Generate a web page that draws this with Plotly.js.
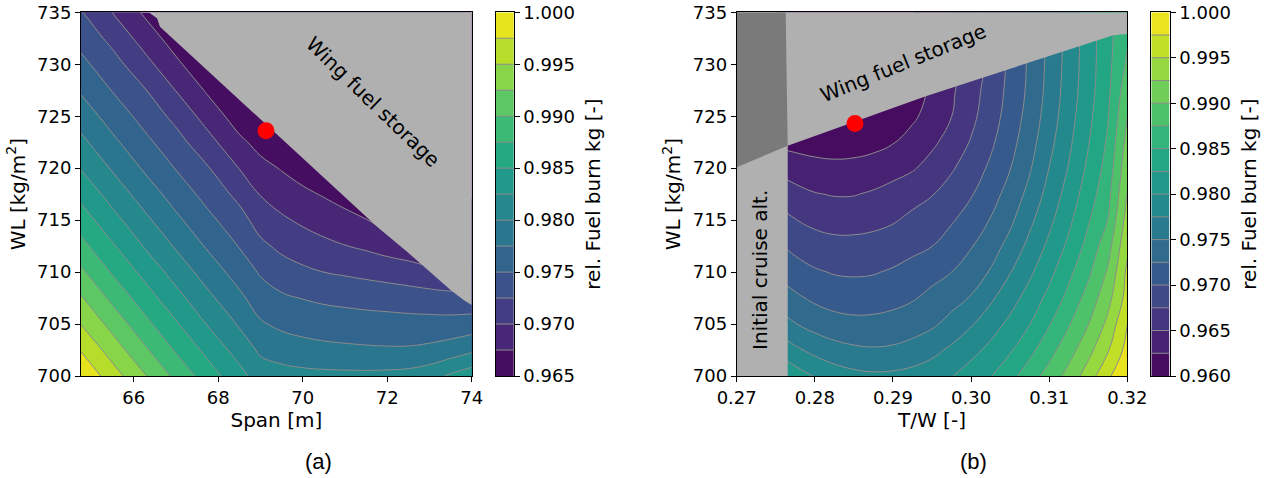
<!DOCTYPE html>
<html><head><meta charset="utf-8">
<script src="https://cdn.plot.ly/plotly-3.0.1.min.js"></script>
<style>html,body{margin:0;padding:0;background:#fff}#chart{width:1272px;height:478px}</style>
</head><body><div id="chart"></div>
<script>
// ---------------- Panel (a): Span vs WL ----------------
const spanX = [64.75, 65.5, 66.25, 67, 67.75, 68.5, 69, 69.5, 70, 70.5, 71, 71.5, 72, 72.5, 73, 73.5, 74];
const wlA = [700, 702.5, 705, 707.5, 710, 712.5, 715, 717.5, 720, 722.5, 725, 727.5, 730, 732.5, 735];
const fuelA = [
  [0.99975, 0.99613, 0.99275, 0.98935, 0.98625, 0.98333, 0.98135, 0.98095, 0.98073, 0.98063, 0.98060, 0.98060, 0.98068, 0.98088, 0.98150, 0.98288, 0.98400],
  [0.99733, 0.99383, 0.99048, 0.98723, 0.98430, 0.98148, 0.97958, 0.97890, 0.97845, 0.97815, 0.97798, 0.97785, 0.97778, 0.97780, 0.97808, 0.97863, 0.97953],
  [0.99493, 0.99163, 0.98828, 0.98528, 0.98235, 0.97973, 0.97778, 0.97698, 0.97655, 0.97630, 0.97615, 0.97603, 0.97595, 0.97588, 0.97588, 0.97595, 0.97613],
  [0.99275, 0.98935, 0.98625, 0.98333, 0.98060, 0.97803, 0.97625, 0.97538, 0.97493, 0.97458, 0.97435, 0.97413, 0.97395, 0.97373, 0.97350, 0.97323, 0.97323],
  [0.99048, 0.98723, 0.98430, 0.98148, 0.97888, 0.97643, 0.97473, 0.97365, 0.97298, 0.97250, 0.97218, 0.97185, 0.97150, 0.97113, 0.97068, 0.97050, 0.97050],
  [0.98828, 0.98528, 0.98235, 0.97973, 0.97720, 0.97488, 0.97305, 0.97195, 0.97123, 0.97060, 0.97008, 0.96960, 0.96900, 0.96850, 0.96800, null, null],
  [0.98625, 0.98333, 0.98060, 0.97803, 0.97565, 0.97343, 0.97145, 0.97038, 0.96958, 0.96890, 0.96828, 0.96758, 0.96650, 0.96625, null, null, null],
  [0.98430, 0.98148, 0.97888, 0.97643, 0.97415, 0.97180, 0.96988, 0.96885, 0.96800, 0.96730, 0.96650, 0.96575, null, null, null, null, null],
  [0.98235, 0.97973, 0.97720, 0.97488, 0.97268, 0.96993, 0.96828, 0.96733, 0.96645, 0.96565, 0.96500, null, null, null, null, null, null],
  [0.98060, 0.97803, 0.97565, 0.97343, 0.97085, 0.96805, 0.96665, 0.96575, 0.96488, 0.96400, null, null, null, null, null, null, null],
  [0.97888, 0.97643, 0.97415, 0.97180, 0.96900, 0.96625, 0.96500, 0.96420, null, null, null, null, null, null, null, null, null],
  [0.97720, 0.97488, 0.97268, 0.96993, 0.96715, 0.96448, 0.96338, null, null, null, null, null, null, null, null, null, null],
  [0.97565, 0.97343, 0.97085, 0.96805, 0.96535, 0.96268, null, null, null, null, null, null, null, null, null, null, null],
  [0.97415, 0.97180, 0.96900, 0.96625, 0.96358, null, null, null, null, null, null, null, null, null, null, null, null],
  [0.97268, 0.96993, 0.96715, 0.96448, null, null, null, null, null, null, null, null, null, null, null, null, null]
];
const levelsA = [0.965, 0.9675, 0.97, 0.9725, 0.975, 0.9775, 0.98, 0.9825, 0.985, 0.9875, 0.99, 0.9925, 0.995, 0.9975, 1.0];
const cbTicksA = [0.965, 0.970, 0.975, 0.980, 0.985, 0.990, 0.995, 1.000];
const spanTicks = [66, 68, 70, 72, 74];
const wlTicks = [700, 705, 710, 715, 720, 725, 730, 735];
const fuelLimA_x = [66.35, 66.55, 66.62, 70.97, 71.76, 72.47, 73.50, 73.81, 74.0];
const fuelLimA_y = [735.0, 734.42, 733.61, 717.25, 714.37, 711.96, 708.28, 707.32, 706.83];
const optA_x = [69.13];
const optA_y = [723.6];

// ---------------- Panel (b): T/W vs WL ----------------
const twX = [0.275, 0.2775, 0.28, 0.2825, 0.285, 0.2875, 0.29, 0.2925, 0.295, 0.2975, 0.30, 0.3025, 0.305, 0.3075, 0.31, 0.3125, 0.315, 0.3175, 0.32];
const wlB = [700, 702.5, 705, 707.5, 710, 712.5, 715, 717.5, 720, 722.5, 725, 727.5, 730, 732.5, 735];
const fuelB = [
  [0.98298, 0.98123, 0.97985, 0.97883, 0.97820, 0.97793, 0.97803, 0.97838, 0.97900, 0.97990, 0.98113, 0.98238, 0.98423, 0.98633, 0.98850, 0.99085, 0.99370, 0.99710, 0.99950],
  [0.97950, 0.97798, 0.97680, 0.97595, 0.97545, 0.97525, 0.97540, 0.97590, 0.97678, 0.97798, 0.97925, 0.98065, 0.98223, 0.98430, 0.98660, 0.98900, 0.99168, 0.99475, 0.99838],
  [0.97648, 0.97510, 0.97408, 0.97343, 0.97313, 0.97315, 0.97340, 0.97390, 0.97460, 0.97580, 0.97728, 0.97890, 0.98060, 0.98245, 0.98483, 0.98730, 0.98995, 0.99310, 0.99750],
  [0.97420, 0.97295, 0.97205, 0.97150, 0.97133, 0.97143, 0.97175, 0.97228, 0.97313, 0.97413, 0.97518, 0.97708, 0.97900, 0.98100, 0.98320, 0.98575, 0.98845, 0.99163, 0.99600],
  [0.97223, 0.97108, 0.97028, 0.96983, 0.96970, 0.96983, 0.97028, 0.97103, 0.97175, 0.97250, 0.97380, 0.97520, 0.97740, 0.97955, 0.98180, 0.98438, 0.98700, 0.99028, 0.99550],
  [0.97043, 0.96933, 0.96860, 0.96823, 0.96820, 0.96838, 0.96873, 0.96928, 0.96998, 0.97118, 0.97235, 0.97393, 0.97580, 0.97820, 0.98055, 0.98305, 0.98580, 0.98898, 0.99453],
  [0.96863, 0.96758, 0.96690, 0.96658, 0.96660, 0.96683, 0.96728, 0.96803, 0.96890, 0.96975, 0.97108, 0.97263, 0.97450, 0.97693, 0.97940, 0.98195, 0.98475, 0.98755, 0.99355],
  [0.96678, 0.96578, 0.96513, 0.96485, 0.96488, 0.96530, 0.96600, 0.96670, 0.96738, 0.96855, 0.96980, 0.97150, 0.97343, 0.97573, 0.97840, 0.98100, 0.98380, 0.98668, 0.99258],
  [0.96455, 0.96378, 0.96330, 0.96310, 0.96318, 0.96348, 0.96400, 0.96475, 0.96593, 0.96723, 0.96873, 0.97043, 0.97243, 0.97475, 0.97755, 0.98015, 0.98300, 0.98595, 0.99173],
  [0.96195, 0.96165, 0.96145, 0.96138, 0.96148, 0.96180, 0.96238, 0.96340, 0.96453, 0.96598, 0.96768, 0.96955, 0.97165, 0.97403, 0.97678, 0.97950, 0.98235, 0.98533, 0.99088],
  [0.96025, 0.96000, 0.95980, 0.95975, 0.95983, 0.96035, 0.96108, 0.96208, 0.96348, 0.96498, 0.96688, 0.96890, 0.97105, 0.97345, 0.97620, 0.97900, 0.98185, 0.98483, 0.98995],
  [null, null, null, null, null, 0.95975, 0.96075, 0.96175, 0.96275, 0.96463, 0.96648, 0.96853, 0.97070, 0.97305, 0.97583, 0.97868, 0.98148, 0.98445, 0.98898],
  [null, null, null, null, null, null, null, 0.96150, 0.96250, 0.96425, 0.96600, 0.96825, 0.97050, 0.97290, 0.97565, 0.97850, 0.98130, 0.98425, 0.98793],
  [null, null, null, null, null, null, null, null, null, null, null, null, 0.97025, 0.97275, 0.97550, 0.97838, 0.98125, 0.98418, 0.98713],
  [null, null, null, null, null, null, null, null, null, null, null, null, null, null, null, null, 0.98113, 0.98400, 0.98675]
];
const levelsB = [0.96, 0.9625, 0.965, 0.9675, 0.97, 0.9725, 0.975, 0.9775, 0.98, 0.9825, 0.985, 0.9875, 0.99, 0.9925, 0.995, 0.9975, 1.0];
const cbTicksB = [0.960, 0.965, 0.970, 0.975, 0.980, 0.985, 0.990, 0.995, 1.000];
const twTicks = [0.27, 0.28, 0.29, 0.30, 0.31, 0.32];
const fuelLimB_x = [0.27, 0.27653, 0.2941, 0.29858, 0.30456, 0.30968, 0.31565, 0.3182, 0.32];
const fuelLimB_y = [720.1, 722.16, 726.9, 728.0, 729.45, 730.7, 732.2, 732.8, 732.9];
const cruiseLimB_x = [0.27653, 0.27653, 0.27627];
const cruiseLimB_y = [700, 722.16, 735];
const optB_x = [0.28514];
const optB_y = [724.3];

// ---------------- helpers ----------------
const VIR = [[0,'#440154'],[0.0627,'#48186a'],[0.1255,'#472d7b'],[0.1882,'#424086'],[0.2510,'#3b528b'],
  [0.3137,'#33638d'],[0.3765,'#2c728e'],[0.4392,'#26828e'],[0.5020,'#21918c'],[0.5647,'#1fa088'],
  [0.6275,'#28ae80'],[0.6902,'#3fbc73'],[0.7529,'#5ec962'],[0.8157,'#84d44b'],[0.8784,'#addc30'],
  [0.9412,'#d8e219'],[1,'#fde725']];
function hx(h){return [parseInt(h.slice(1,3),16),parseInt(h.slice(3,5),16),parseInt(h.slice(5,7),16)];}
function viridisAt(t){
  for(let i=0;i<VIR.length-1;i++){
    const a=VIR[i], b=VIR[i+1];
    if(t<=b[0]){const f=(t-a[0])/(b[0]-a[0]);const ca=hx(a[1]),cb=hx(b[1]);
      return 'rgb('+ca.map((v,j)=>Math.round(v+(cb[j]-v)*f)).join(',')+')';}
  }
  return VIR[VIR.length-1][1];
}
function bandScale(nb){const cs=[];for(let k=0;k<nb;k++)cs.push([k/(nb-1), viridisAt((k+0.5)/nb)]);return cs;}
function cbHeat(levels, xa, ya){
  const lo=levels[0], hi=levels[levels.length-1];
  const z=[]; for(let i=0;i<levels.length-1;i++) z.push([(levels[i]+levels[i+1])/2]);
  return {type:'heatmap', x:[0,1], y:levels, z:z, zmin:lo, zmax:hi,
    colorscale:VIR.map(s=>[s[0],s[1]]), showscale:false, xaxis:xa, yaxis:ya, hoverinfo:'skip'};
}
function cbLines(levels, xa, ya){
  const x=[],y=[]; for(let i=1;i<levels.length-1;i++){x.push(0,1,null);y.push(levels[i],levels[i],null);}
  return {type:'scatter',mode:'lines',x:x,y:y,line:{color:'#8c8c8c',width:1},xaxis:xa,yaxis:ya,hoverinfo:'skip',showlegend:false};
}
function poly(xs, ys, color, xa, ya){
  return {type:'scatter',mode:'lines',x:xs,y:ys,fill:'toself',fillcolor:color,line:{width:0,color:color},
    xaxis:xa,yaxis:ya,hoverinfo:'skip',showlegend:false};
}
const LIGHT='#b0b0b0', DARK='#7a7a7a';
const xAr=[spanX[0],74], yAr=[700,735], xBr=[0.27,0.32];

const traces=[];
traces.push({type:'contour', x:spanX, y:wlA, z:fuelA, xaxis:'x', yaxis:'y', autocontour:false, connectgaps:true,
  contours:{start:levelsA[1], end:levelsA[levelsA.length-2], size:levelsA[1]-levelsA[0], coloring:'fill', showlines:true},
  colorscale:bandScale(levelsA.length-1), showscale:false, line:{color:'#8c8c8c', width:1, smoothing:1.3}, hoverinfo:'skip'});
traces.push(poly(fuelLimA_x.concat([xAr[1], fuelLimA_x[0]]), fuelLimA_y.concat([yAr[1], yAr[1]]), LIGHT, 'x','y'));
traces.push({type:'scatter',mode:'markers',x:optA_x,y:optA_y,marker:{color:'#ff0000',size:17},xaxis:'x',yaxis:'y',hoverinfo:'skip',showlegend:false});
traces.push(cbHeat(levelsA,'x3','y3'));
traces.push(cbLines(levelsA,'x3','y3'));

traces.push({type:'contour', x:twX, y:wlB, z:fuelB, xaxis:'x2', yaxis:'y2', autocontour:false, connectgaps:true,
  contours:{start:levelsB[1], end:levelsB[levelsB.length-2], size:levelsB[1]-levelsB[0], coloring:'fill', showlines:true},
  colorscale:bandScale(levelsB.length-1), showscale:false, line:{color:'#8c8c8c', width:1, smoothing:1.3}, hoverinfo:'skip'});
traces.push(poly(fuelLimB_x.concat([xBr[1], xBr[0]]), fuelLimB_y.concat([yAr[1], yAr[1]]), LIGHT, 'x2','y2'));
traces.push(poly([xBr[0]].concat(cruiseLimB_x).concat([xBr[0]]), [yAr[0]].concat(cruiseLimB_y).concat([yAr[1]]), LIGHT, 'x2','y2'));
traces.push(poly([fuelLimB_x[0], fuelLimB_x[1], cruiseLimB_x[2], xBr[0]], [fuelLimB_y[0], fuelLimB_y[1], cruiseLimB_y[2], yAr[1]], DARK, 'x2','y2'));
traces.push({type:'scatter',mode:'markers',x:optB_x,y:optB_y,marker:{color:'#ff0000',size:17},xaxis:'x2',yaxis:'y2',hoverinfo:'skip',showlegend:false});
traces.push(cbHeat(levelsB,'x4','y4'));
traces.push(cbLines(levelsB,'x4','y4'));

const FONT='DejaVu Sans';
const tf={family:FONT,size:18,color:'#000'};
const lf={family:FONT,size:20,color:'#000'};
function mainAx(dom, anchor, range, ticks, fmt, title, standoff){
  return {domain:dom, anchor:anchor, range:range, tickvals:ticks, tickformat:fmt, ticks:'outside', ticklen:5, tickwidth:1,
    tickcolor:'#000', showline:true, linecolor:'#000', linewidth:1, mirror:true, showgrid:false, zeroline:false,
    tickfont:tf, title:{text:title, font:lf, standoff:standoff}, fixedrange:true};
}
function cbAxY(dom, anchor, range, ticks){
  return {domain:dom, anchor:anchor, side:'right', range:range, tickvals:ticks, tickformat:'.3f', ticks:'outside', ticklen:5, tickwidth:1,
    tickcolor:'#000', showline:true, linecolor:'#000', linewidth:1, mirror:true, showgrid:false, zeroline:false, tickfont:tf,
    title:{text:'rel. Fuel burn kg [-]', font:lf, standoff:12}, fixedrange:true};
}
function cbAxX(dom, anchor){
  return {domain:dom, anchor:anchor, range:[0,1], showticklabels:false, ticks:'', showline:true, linecolor:'#000', linewidth:1,
    mirror:true, showgrid:false, zeroline:false, fixedrange:true};
}
const yDom=[1-376/478, 1-12.3/478];
const layout={
  width:1272, height:478, margin:{l:0,r:0,t:0,b:0}, paper_bgcolor:'#fff', plot_bgcolor:'#fff',
  showlegend:false, font:{family:FONT,color:'#000'}, hovermode:false,
  xaxis: mainAx([81/1272, 471.7/1272], 'y', xAr, spanTicks, 'd', 'Span [m]', 4),
  yaxis: mainAx(yDom, 'x', yAr, wlTicks, 'd', 'WL [kg/m<sup>2</sup>]', 6),
  xaxis2: mainAx([736.7/1272, 1127.3/1272], 'y2', xBr, twTicks, '.2f', 'T/W [-]', 4),
  yaxis2: mainAx(yDom, 'x2', yAr, wlTicks, 'd', 'WL [kg/m<sup>2</sup>]', 6),
  xaxis3: cbAxX([496/1272, 513.7/1272], 'y3'),
  yaxis3: cbAxY(yDom, 'x3', [levelsA[0], levelsA[levelsA.length-1]], cbTicksA),
  xaxis4: cbAxX([1151.3/1272, 1169.7/1272], 'y4'),
  yaxis4: cbAxY(yDom, 'x4', [levelsB[0], levelsB[levelsB.length-1]], cbTicksB),
  annotations:[
    {xref:'x', yref:'y', x:71.67, y:726.4, text:'Wing fuel storage', textangle:44, showarrow:false, font:lf},
    {xref:'x2', yref:'y2', x:0.2913, y:730.1, text:'Wing fuel storage', textangle:-22, showarrow:false, font:lf},
    {xref:'x2', yref:'y2', x:0.27298, y:710.2, text:'Initial cruise alt.', textangle:-90, showarrow:false, font:lf},
    {xref:'paper', yref:'paper', x:318/1272, y:1-461/478, xanchor:'center', yanchor:'middle', text:'(a)', showarrow:false, font:{family:'Liberation Sans',size:22,color:'#000'}},
    {xref:'paper', yref:'paper', x:973/1272, y:1-461/478, xanchor:'center', yanchor:'middle', text:'(b)', showarrow:false, font:{family:'Liberation Sans',size:22,color:'#000'}}
  ]
};
Plotly.newPlot('chart', traces, layout, {staticPlot:true, displayModeBar:false});
</script></body></html>
